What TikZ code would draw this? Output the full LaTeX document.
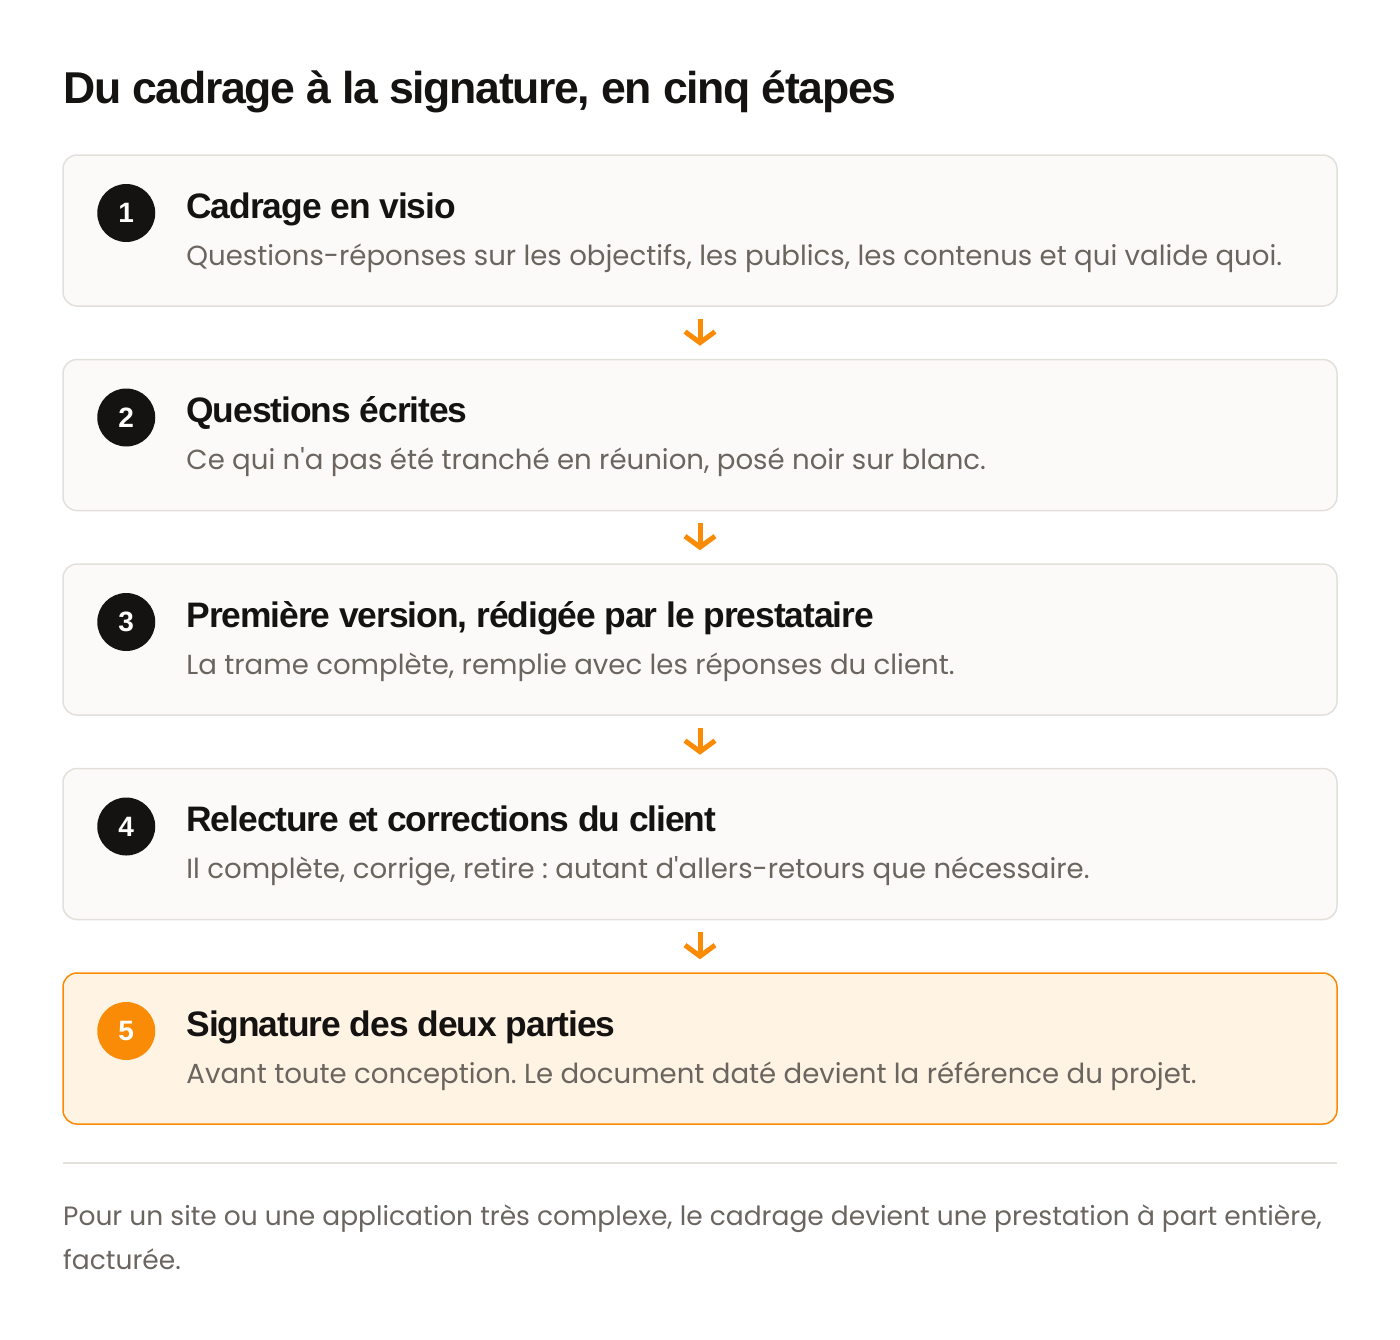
\documentclass[tikz,border=0pt]{standalone}
\usepackage{fontspec}
\usetikzlibrary{positioning,arrows.meta}
\setmainfont{Poppins}[Ligatures=TeXOff]
\newfontfamily\headfont[LetterSpace=-3]{Liberation Sans}
\definecolor{ink}{HTML}{151311}
\definecolor{muted}{HTML}{6B655F}
\definecolor{cardfill}{HTML}{FCFAF8}
\definecolor{cardline}{HTML}{E3DFDA}
\definecolor{accent}{HTML}{F98B06}
\definecolor{accentfill}{HTML}{FFF3E4}
\tikzset{
  card/.style={draw=cardline,line width=1.5pt,fill=cardfill,rounded corners=14pt,
    minimum width=1274pt,minimum height=151pt,inner sep=0pt},
  lastcard/.style={card,draw=accent,fill=accentfill},
  badge/.style={circle,fill=ink,minimum size=58pt,inner sep=0pt,text=white,
    font=\headfont\bfseries\fontsize{28}{28}\selectfont},
  heading/.style={anchor=base west,inner sep=0pt,text=ink,
    font=\headfont\bfseries\fontsize{35.4}{35.4}\selectfont},
  detail/.style={anchor=base west,inner sep=0pt,text=muted,
    font=\frenchspacing\fontsize{27.6}{27.6}\selectfont},
  note/.style={detail,font=\frenchspacing\fontsize{26.5}{26.5}\selectfont},
  flow/.style={draw=accent,line width=5pt,shorten <=12pt,shorten >=13pt,
    -{Straight Barb[length=11pt,width=30pt]}}
}
\begin{document}
\begin{tikzpicture}[x=1pt,y=-1pt]
    \useasboundingbox (0,0) rectangle (1400,1339);
    \node[anchor=base west,inner sep=0pt,text=ink,font=\headfont\bfseries\fontsize{44.6}{44.6}\selectfont] (title) at (63,103) {Du cadrage à la signature, en cinq étapes};

    % the five steps
    \node[card] (c1) at (700,230.5) {};
    \node[card,below=52pt of c1] (c2) {};
    \node[card,below=52pt of c2] (c3) {};
    \node[card,below=52pt of c3] (c4) {};
    \node[lastcard,below=52pt of c4] (c5) {};

    \node[badge] (n1) at ([xshift=64pt,yshift=17.5pt]c1.west) {1};
    \node[badge] (n2) at ([xshift=64pt,yshift=17.5pt]c2.west) {2};
    \node[badge] (n3) at ([xshift=64pt,yshift=17.5pt]c3.west) {3};
    \node[badge] (n4) at ([xshift=64pt,yshift=17.5pt]c4.west) {4};
    \node[badge,fill=accent] (n5) at ([xshift=64pt,yshift=17.5pt]c5.west) {5};

    \node[heading] (h1) at ([xshift=124pt,yshift=12.5pt]c1.west) {Cadrage en visio};
    \node[detail] (d1) at ([xshift=124pt,yshift=-34.5pt]c1.west) {Questions-réponses sur les objectifs, les publics, les contenus et qui valide quoi.};
    \node[heading] (h2) at ([xshift=124pt,yshift=12.5pt]c2.west) {Questions écrites};
    \node[detail] (d2) at ([xshift=124pt,yshift=-34.5pt]c2.west) {Ce qui n'a pas été tranché en réunion, posé noir sur blanc.};
    \node[heading] (h3) at ([xshift=124pt,yshift=12.5pt]c3.west) {Première version, rédigée par le prestataire};
    \node[detail] (d3) at ([xshift=124pt,yshift=-34.5pt]c3.west) {La trame complète, remplie avec les réponses du client.};
    \node[heading] (h4) at ([xshift=124pt,yshift=12.5pt]c4.west) {Relecture et corrections du client};
    \node[detail] (d4) at ([xshift=124pt,yshift=-34.5pt]c4.west) {Il complète, corrige, retire : autant d'allers-retours que nécessaire.};
    \node[heading] (h5) at ([xshift=124pt,yshift=12.5pt]c5.west) {Signature des deux parties};
    \node[detail] (d5) at ([xshift=124pt,yshift=-34.5pt]c5.west) {Avant toute conception. Le document daté devient la référence du projet.};

    \draw[flow] (c1) -- (c2);
    \draw[flow] (c2) -- (c3);
    \draw[flow] (c3) -- (c4);
    \draw[flow] (c4) -- (c5);

    % note below
    \coordinate (r1) at (63,1163);
    \coordinate (r2) at (1337,1163);
    \draw[cardline,line width=1.5pt] (r1) -- (r2);
    \node[note] (f1) at (63,1225) {Pour un site ou une application très complexe, le cadrage devient une prestation à part entière,};
    \node[note] (f2) at (63,1269) {facturée.};
\end{tikzpicture}
\end{document}
